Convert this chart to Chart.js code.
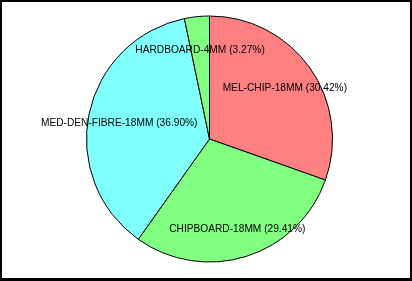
<!DOCTYPE html>
<html>
<head>
<meta charset="utf-8">
<script src="https://cdn.jsdelivr.net/npm/chart.js@4"></script>
<style>
  html, body { margin: 0; padding: 0; background: #fff; }
  #frame {
    width: 412px; height: 281px; box-sizing: border-box;
    border: 2px solid #000; border-bottom-width: 3px;
    background: #fff;
  }
  #myChart { display: block; }
</style>
</head>
<body>
<div id="frame"><canvas id="myChart" width="408" height="276"></canvas></div>
<script>
  const categorias = ['MEL-CHIP-18MM', 'CHIPBOARD-18MM', 'MED-DEN-FIBRE-18MM', 'HARDBOARD-4MM'];
  const valores = [30.42, 29.41, 36.90, 3.27];
  const colores = ['#FF8080', '#80FF80', '#80FFFF', '#80FF80'];

  // etiquetas dentro de cada sector, a 3/4 del radio
  const etiquetasPlugin = {
    id: 'etiquetas',
    afterDatasetsDraw(chart) {
      const ctx = chart.ctx;
      const arcs = chart.getDatasetMeta(0).data;
      arcs.forEach((arc, i) => {
        const p = arc.getProps(['x', 'y', 'startAngle', 'endAngle', 'outerRadius'], true);
        const a = (p.startAngle + p.endAngle) / 2;
        const r = p.outerRadius * 0.75;
        const texto = `${categorias[i]} (${valores[i].toFixed(2)}%)`;
        ctx.save();
        ctx.translate(p.x + Math.cos(a) * r, p.y + Math.sin(a) * r + 2.5);
        ctx.scale(0.925, 1);
        ctx.font = '11px "Liberation Sans", Arial, sans-serif';
        ctx.fillStyle = '#000';
        ctx.textAlign = 'center';
        ctx.textBaseline = 'middle';
        ctx.fillText(texto, 0, 0);
        ctx.restore();
      });
    }
  };

  const ctx = document.getElementById('myChart').getContext('2d');
  const myChart = new Chart(ctx, {
    type: 'pie',
    data: {
      labels: categorias,
      datasets: [{
        data: valores,
        backgroundColor: colores,
        borderColor: '#000',
        borderWidth: 1,
        hoverOffset: 0
      }]
    },
    options: {
      responsive: false,
      animation: false,
      radius: 123,
      layout: { padding: { top: 14, bottom: 16, left: 7, right: 0 } },
      plugins: {
        legend: { display: false },
        tooltip: { enabled: false }
      }
    },
    plugins: [etiquetasPlugin]
  });
</script>
</body>
</html>
